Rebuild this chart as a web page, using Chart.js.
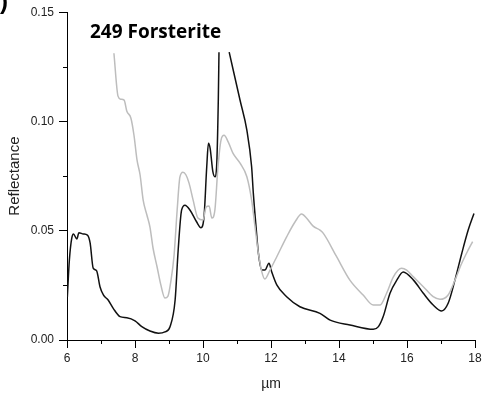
<!DOCTYPE html>
<html>
<head>
<meta charset="utf-8">
<script src="https://cdn.jsdelivr.net/npm/chart.js@4"></script>
<style>
  html, body { margin: 0; padding: 0; background: #fff; }
  #wrap { width: 485px; height: 400px; position: relative; }
</style>
</head>
<body>
<div id="wrap"><canvas id="spec"></canvas></div>
<script>
// Sample spectrum (black) - null marks where the peak runs off the top
const blackX = [6.01, 6.07, 6.14, 6.19, 6.29, 6.35, 6.48, 6.60, 6.68, 6.77, 6.87, 6.97, 7.07, 7.21, 7.36, 7.56, 7.76, 8.00, 8.20, 8.44, 8.69, 8.88, 9.03, 9.18, 9.27, 9.37, 9.47, 9.62, 9.81, 9.94, 10.03, 10.11, 10.16, 10.21, 10.29, 10.35, 10.40, 10.45, 10.47, 10.62, 10.77, 11.09, 11.29, 11.43, 11.48, 11.56, 11.63, 11.73, 11.82, 11.94, 12.02, 12.17, 12.46, 12.85, 13.44, 13.74, 14.32, 15.01, 15.16, 15.30, 15.50, 15.70, 15.89, 16.19, 16.48, 16.77, 17.02, 17.21, 17.41, 17.61, 17.80, 17.97];
const blackY = [0.0197, 0.0366, 0.0466, 0.0485, 0.0462, 0.0491, 0.0485, 0.0480, 0.0444, 0.0329, 0.0317, 0.0244, 0.0206, 0.0183, 0.0145, 0.0107, 0.0102, 0.0088, 0.0061, 0.0041, 0.0031, 0.0037, 0.0061, 0.0183, 0.0412, 0.0594, 0.0617, 0.0594, 0.0541, 0.0514, 0.0564, 0.0793, 0.0900, 0.0877, 0.0770, 0.0747, 0.0793, 0.1097, 0.1317, null, 0.1317, 0.1097, 0.0960, 0.0793, 0.0672, 0.0518, 0.0396, 0.0320, 0.0320, 0.0351, 0.0312, 0.0252, 0.0198, 0.0152, 0.0122, 0.0091, 0.0069, 0.0049, 0.0061, 0.0107, 0.0214, 0.0274, 0.0311, 0.0274, 0.0214, 0.0160, 0.0133, 0.0168, 0.0274, 0.0396, 0.0503, 0.0579];

// Reference spectrum (grey)
const greyX = [7.38, 7.50, 7.58, 7.68, 7.76, 7.88, 7.97, 8.06, 8.15, 8.24, 8.35, 8.44, 8.53, 8.65, 8.76, 8.88, 8.97, 9.06, 9.15, 9.24, 9.32, 9.41, 9.50, 9.59, 9.71, 9.85, 10.00, 10.09, 10.18, 10.26, 10.35, 10.44, 10.53, 10.62, 10.74, 10.88, 11.09, 11.29, 11.43, 11.53, 11.63, 11.73, 11.82, 11.97, 12.17, 12.46, 12.71, 12.90, 13.05, 13.24, 13.44, 13.54, 13.93, 14.32, 14.71, 15.01, 15.21, 15.40, 15.60, 15.84, 15.99, 16.19, 16.48, 16.77, 16.97, 17.21, 17.41, 17.61, 17.80, 17.93];
const greyY = [0.1312, 0.1116, 0.1102, 0.1098, 0.1047, 0.1015, 0.0937, 0.0823, 0.0755, 0.0640, 0.0572, 0.0517, 0.0421, 0.0334, 0.0252, 0.0192, 0.0201, 0.0274, 0.0389, 0.0595, 0.0745, 0.0768, 0.0755, 0.0718, 0.0640, 0.0558, 0.0549, 0.0608, 0.0613, 0.0558, 0.0595, 0.0791, 0.0915, 0.0937, 0.0907, 0.0855, 0.0809, 0.0747, 0.0640, 0.0518, 0.0396, 0.0312, 0.0279, 0.0320, 0.0381, 0.0472, 0.0541, 0.0576, 0.0557, 0.0521, 0.0503, 0.0488, 0.0381, 0.0274, 0.0206, 0.0160, 0.0160, 0.0214, 0.0289, 0.0328, 0.0320, 0.0289, 0.0244, 0.0198, 0.0186, 0.0206, 0.0274, 0.0351, 0.0412, 0.0450];

const xTicks = [6, 8, 10, 12, 14, 16, 18];
const yTicks = [0.00, 0.05, 0.10, 0.15];

const toPoints = (xs, ys) => xs.map((x, i) => ({ x: x, y: ys[i] }));

const isMajor = (v, list) => list.some((t) => Math.abs(t - v) < 1e-6);

const tickFont = { family: "'Liberation Sans', Arial, sans-serif", size: 12 };
const labelColor = "#222";

// short outward ticks between the labelled ones
const minorTicks = {
  id: "minorTicks",
  afterDraw(chart) {
    const ctx = chart.ctx;
    const xs = chart.scales.x;
    const ys = chart.scales.y;
    ctx.save();
    ctx.strokeStyle = "#000";
    ctx.lineWidth = 1;
    xs.ticks.forEach((t) => {
      if (isMajor(t.value, xTicks)) return;
      const px = Math.round(xs.getPixelForValue(t.value)) + 0.5;
      ctx.beginPath();
      ctx.moveTo(px, ys.bottom);
      ctx.lineTo(px, ys.bottom + 4);
      ctx.stroke();
    });
    ys.ticks.forEach((t) => {
      if (isMajor(t.value, yTicks)) return;
      const py = Math.round(ys.getPixelForValue(t.value)) + 0.5;
      ctx.beginPath();
      ctx.moveTo(xs.left, py);
      ctx.lineTo(xs.left - 4, py);
      ctx.stroke();
    });
    ctx.restore();
  }
};

// sample name inside the plot and the cut-off panel letter
const captions = {
  id: "captions",
  afterDraw(chart) {
    const ctx = chart.ctx;
    const area = chart.chartArea;
    ctx.save();
    ctx.fillStyle = "#000";
    ctx.textBaseline = "alphabetic";
    ctx.font = "bold 19px 'Open Sans', Lato, sans-serif";
    ctx.fillText("249 Forsterite", area.left + 23, 38);
    ctx.font = "bold 24px 'Liberation Sans', Arial, sans-serif";
    ctx.fillText(")", 0, 9);
    ctx.restore();
  }
};

new Chart(document.getElementById("spec"), {
  type: "scatter",
  data: {
    datasets: [
      {
        label: "reference",
        data: toPoints(greyX, greyY),
        showLine: true,
        borderColor: "#bdbdbd",
        borderWidth: 1.5,
        pointRadius: 0,
        cubicInterpolationMode: "monotone",
        fill: false
      },
      {
        label: "249 Forsterite",
        data: toPoints(blackX, blackY),
        showLine: true,
        spanGaps: false,
        borderColor: "#111",
        borderWidth: 1.5,
        pointRadius: 0,
        cubicInterpolationMode: "monotone",
        fill: false
      }
    ]
  },
  options: {
    responsive: true,
    maintainAspectRatio: false,
    animation: false,
    layout: { padding: { top: 12, right: 10, left: 0, bottom: 0 } },
    plugins: {
      legend: { display: false },
      tooltip: { enabled: false }
    },
    scales: {
      x: {
        type: "linear",
        min: 6,
        max: 18,
        afterFit: (s) => { s.height = 60; },
        grid: {
          drawOnChartArea: false,
          tickLength: 8,
          tickColor: (c) => (c.tick && isMajor(c.tick.value, xTicks) ? "#000" : "rgba(0,0,0,0)")
        },
        border: { color: "#000", width: 1 },
        ticks: {
          stepSize: 1,
          autoSkip: false,
          maxRotation: 0,
          padding: 3,
          color: labelColor,
          font: tickFont,
          callback: (v) => (isMajor(v, xTicks) ? String(v) : "")
        },
        title: {
          display: true,
          text: "µm",
          color: labelColor,
          font: { family: "'Liberation Sans', Arial, sans-serif", size: 14 },
          padding: { top: 4, bottom: 7 }
        }
      },
      y: {
        type: "linear",
        min: 0,
        max: 0.15,
        afterFit: (s) => { s.width = 67; },
        grid: {
          drawOnChartArea: false,
          tickLength: 8,
          tickColor: (c) => (c.tick && isMajor(c.tick.value, yTicks) ? "#000" : "rgba(0,0,0,0)")
        },
        border: { color: "#000", width: 1 },
        ticks: {
          stepSize: 0.025,
          autoSkip: false,
          padding: 5,
          color: labelColor,
          font: tickFont,
          callback: (v) => (isMajor(v, yTicks) ? v.toFixed(2) : "")
        },
        title: {
          display: true,
          text: "Reflectance",
          color: labelColor,
          font: { family: "'Liberation Sans', Arial, sans-serif", size: 15 },
          padding: { top: 6, bottom: 4 }
        }
      }
    }
  },
  plugins: [minorTicks, captions]
});
</script>
</body>
</html>
